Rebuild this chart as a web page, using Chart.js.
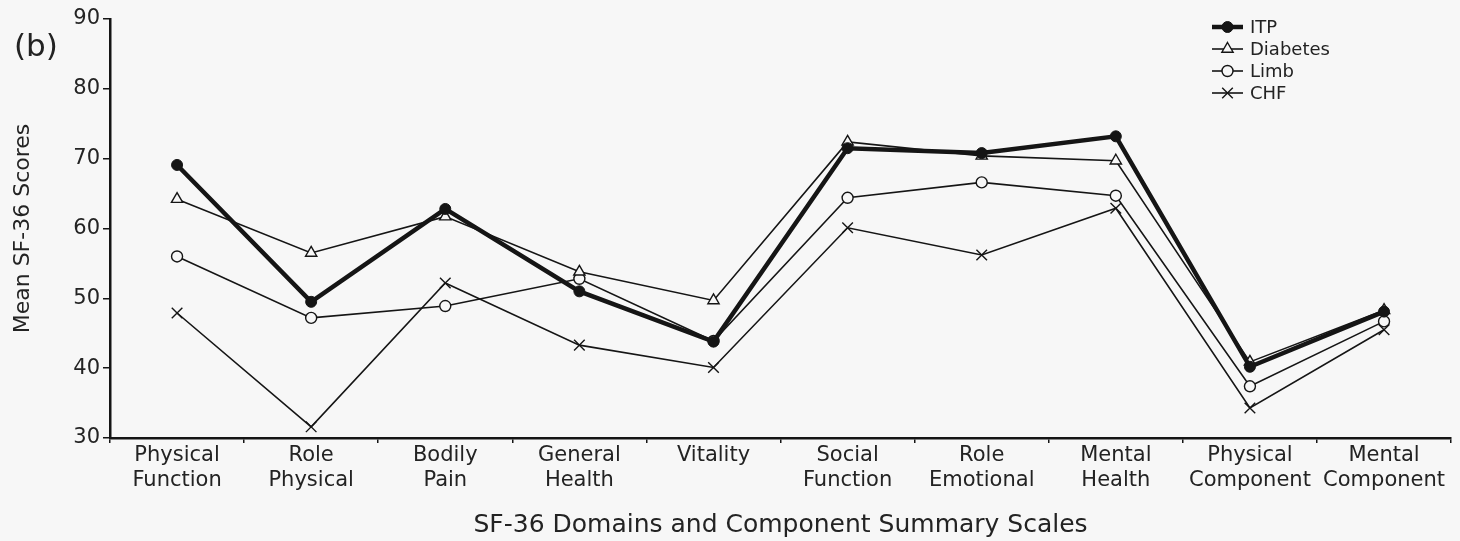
<!DOCTYPE html>
<html>
<head>
<meta charset="utf-8">
<script src="https://cdn.jsdelivr.net/npm/chart.js@4/dist/chart.umd.min.js"></script>
<style>
  html, body { margin: 0; padding: 0; background: #f7f7f7; }
  #wrap { width: 1460px; height: 541px; }
</style>
</head>
<body>
<div id="wrap"><canvas id="c" width="1460" height="541"></canvas></div>
<script>
// SF-36 domains and component summary scales
const categories = [
  ['Physical', 'Function'], ['Role', 'Physical'], ['Bodily', 'Pain'], ['General', 'Health'],
  'Vitality', ['Social', 'Function'], ['Role', 'Emotional'], ['Mental', 'Health'],
  ['Physical', 'Component'], ['Mental', 'Component']
];

// Mean scores per patient group
const itp      = [69.1, 49.5, 62.8, 51.0, 43.8, 71.5, 70.8, 73.2, 40.2, 48.1];
const diabetes = [64.2, 56.5, 61.7, 53.8, 49.7, 72.4, 70.4, 69.7, 40.9, 48.3];
const limb     = [56.0, 47.2, 48.9, 52.8, 43.9, 64.4, 66.6, 64.7, 37.4, 46.7];
const chf      = [47.9, 31.6, 52.2, 43.3, 40.1, 60.1, 56.2, 62.9, 34.3, 45.5];

const yTicks = [30, 40, 50, 60, 70, 80, 90];
const panelLabel = '(b)';
const xTitle = 'SF-36 Domains and Component Summary Scales';
const yTitle = 'Mean SF-36 Scores';

const FONT = "'DejaVu Sans', 'Liberation Sans', Arial, sans-serif";
const INK = '#151515';
const TEXT = '#232323';

function series(label, data, style) {
  return Object.assign({
    label, data,
    borderColor: INK,
    pointBorderColor: INK,
    tension: 0,
    fill: false
  }, style);
}

const datasets = [
  series('ITP', itp, { borderWidth: 4.5, pointStyle: 'circle', pointRadius: 5.5, pointBackgroundColor: INK, pointBorderWidth: 1 }),
  series('Diabetes', diabetes, { borderWidth: 1.6, pointStyle: 'triangle', pointRadius: 6.5, pointBackgroundColor: '#f7f7f7', pointBorderWidth: 1.4 }),
  series('Limb', limb, { borderWidth: 1.6, pointStyle: 'circle', pointRadius: 5.5, pointBackgroundColor: '#f7f7f7', pointBorderWidth: 1.4 }),
  series('CHF', chf, { borderWidth: 1.6, pointStyle: 'crossRot', pointRadius: 7.5, pointBackgroundColor: INK, pointBorderWidth: 1.4 })
];

// Draws one marker in the dataset's style
function marker(ctx, ds, x, y) {
  const r = ds.pointRadius;
  ctx.save();
  ctx.lineWidth = ds.pointBorderWidth;
  ctx.strokeStyle = ds.pointBorderColor;
  ctx.fillStyle = ds.pointBackgroundColor;
  ctx.beginPath();
  if (ds.pointStyle === 'circle') {
    ctx.arc(x, y, r, 0, Math.PI * 2);
    ctx.fill(); ctx.stroke();
  } else if (ds.pointStyle === 'triangle') {
    ctx.moveTo(x, y - r);
    ctx.lineTo(x + r * 0.866, y + r * 0.5);
    ctx.lineTo(x - r * 0.866, y + r * 0.5);
    ctx.closePath();
    ctx.fill(); ctx.stroke();
  } else if (ds.pointStyle === 'crossRot') {
    const d = r * 0.707;
    ctx.moveTo(x - d, y - d); ctx.lineTo(x + d, y + d);
    ctx.moveTo(x + d, y - d); ctx.lineTo(x - d, y + d);
    ctx.stroke();
  }
  ctx.restore();
}

// Legend inside the plot (line + marker + name) and the panel letter
const decorations = {
  id: 'decorations',
  afterDraw(chart) {
    const ctx = chart.ctx;
    const x0 = 1212, x1 = 1243, tx = 1250;
    let y = 27;
    ctx.save();
    ctx.font = '18px ' + FONT;
    ctx.textBaseline = 'middle';
    ctx.textAlign = 'left';
    chart.data.datasets.forEach(ds => {
      ctx.beginPath();
      ctx.lineWidth = ds.borderWidth;
      ctx.strokeStyle = ds.borderColor;
      ctx.moveTo(x0, y); ctx.lineTo(x1, y);
      ctx.stroke();
      marker(ctx, ds, (x0 + x1) / 2, y);
      ctx.fillStyle = TEXT;
      ctx.fillText(ds.label, tx, y + 1);
      y += 22;
    });
    ctx.font = '31px ' + FONT;
    ctx.textAlign = 'left';
    ctx.fillStyle = TEXT;
    ctx.fillText(panelLabel, 14, 48);
    ctx.restore();
  }
};

new Chart(document.getElementById('c'), {
  type: 'line',
  data: { labels: categories, datasets },
  plugins: [decorations],
  options: {
    responsive: false,
    animation: false,
    devicePixelRatio: 1,
    layout: { padding: { top: 19, right: 6, left: 0, bottom: 0 } },
    plugins: { legend: { display: false }, tooltip: { enabled: false } },
    scales: {
      x: {
        type: 'category',
        offset: true,
        grid: { offset: true, drawOnChartArea: false, drawTicks: true, tickLength: 5, color: INK, lineWidth: 1.5 },
        border: { color: INK, width: 2.5 },
        ticks: { font: { family: FONT, size: 21 }, color: TEXT, padding: 0, maxRotation: 0, autoSkip: false },
        title: { display: true, text: xTitle, color: TEXT, font: { family: FONT, size: 25 }, padding: { top: 0, bottom: 1 } },
        afterFit(scale) { scale.height = 103; }
      },
      y: {
        min: yTicks[0],
        max: yTicks[yTicks.length - 1],
        afterBuildTicks(scale) { scale.ticks = yTicks.map(v => ({ value: v })); },
        grid: { drawOnChartArea: false, drawTicks: true, tickLength: 7, color: INK, lineWidth: 1.5 },
        border: { color: INK, width: 2.5 },
        ticks: { font: { family: FONT, size: 21 }, color: TEXT, padding: 3 },
        title: { display: true, text: yTitle, color: TEXT, font: { family: FONT, size: 22 }, padding: { top: 10, bottom: 0 } },
        afterFit(scale) { scale.width = 110; }
      }
    }
  }
});
</script>
</body>
</html>
